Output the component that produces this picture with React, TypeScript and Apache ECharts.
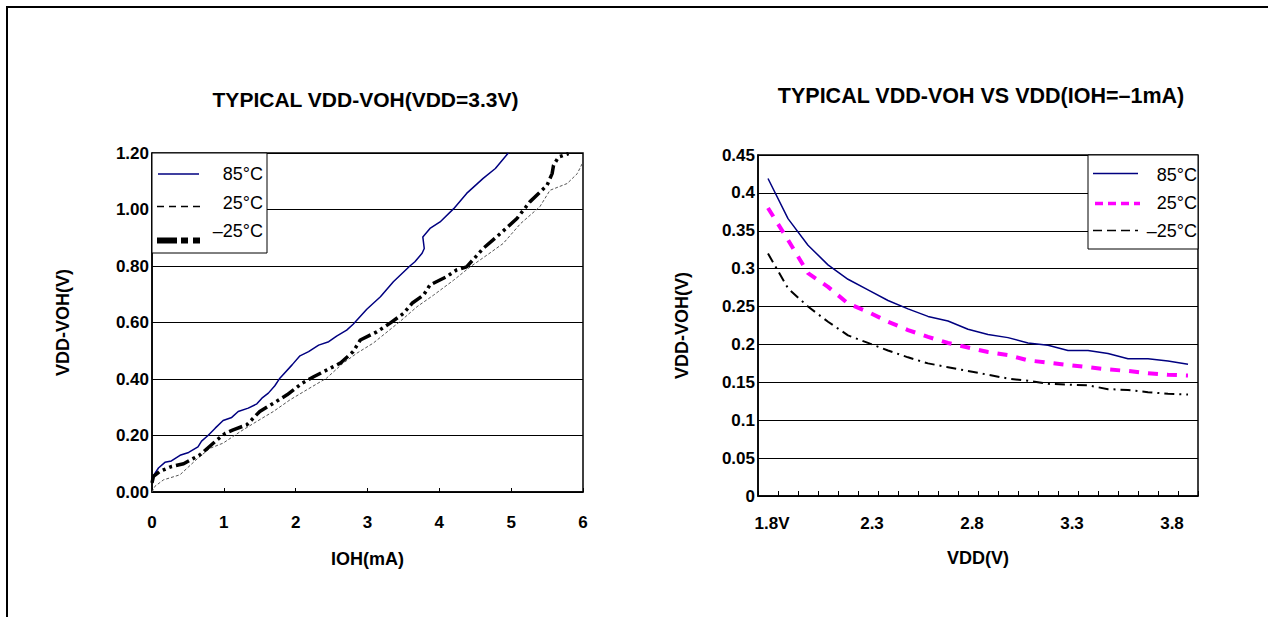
import React, { useEffect, useRef } from 'react';
import * as echarts from 'echarts';

// ---------- Left chart data: VDD-VOH vs IOH (VDD = 3.3V) ----------
const ioh85 = [0, 0.09, 0.18, 0.27, 0.39, 0.51, 0.64, 0.69, 0.78, 0.88, 0.99, 1.11, 1.2, 1.34, 1.46, 1.53, 1.62, 1.71, 1.78, 1.95, 2.06, 2.18, 2.32, 2.46, 2.57, 2.71, 2.8, 2.99, 3.18, 3.36, 3.59, 3.66, 3.76, 3.79, 3.77, 3.87, 4.01, 4.2, 4.38, 4.61, 4.78, 4.96];
const voh85 = [0.05, 0.085, 0.105, 0.11, 0.13, 0.14, 0.16, 0.18, 0.2, 0.226, 0.253, 0.264, 0.285, 0.297, 0.312, 0.332, 0.35, 0.376, 0.403, 0.45, 0.482, 0.497, 0.52, 0.532, 0.552, 0.573, 0.594, 0.647, 0.691, 0.744, 0.8, 0.815, 0.845, 0.862, 0.903, 0.933, 0.956, 1.003, 1.057, 1.11, 1.145, 1.2];

const ioh25 = [0, 0.04, 0.16, 0.39, 0.64, 0.81, 0.99, 1.23, 1.46, 1.69, 1.92, 2.15, 2.43, 2.66, 2.85, 3.08, 3.25, 3.45, 3.69, 3.92, 4.2, 4.43, 4.66, 4.89, 5.13, 5.4, 5.54, 5.78, 5.92, 6.0];
const voh25 = [0, 0.02, 0.043, 0.061, 0.12, 0.155, 0.173, 0.214, 0.25, 0.285, 0.326, 0.361, 0.403, 0.456, 0.491, 0.527, 0.562, 0.603, 0.656, 0.697, 0.75, 0.797, 0.838, 0.88, 0.95, 1.01, 1.068, 1.092, 1.127, 1.168];

const iohM25 = [0, 0.02, 0.11, 0.27, 0.44, 0.67, 0.88, 1.02, 1.13, 1.32, 1.5, 1.69, 1.88, 2.09, 2.25, 2.48, 2.62, 2.8, 2.9, 3.13, 3.31, 3.5, 3.62, 3.78, 3.87, 4.1, 4.24, 4.38, 4.61, 4.85, 5.08, 5.26, 5.5, 5.57, 5.59, 5.66, 5.8];
const vohM25 = [0.032, 0.055, 0.073, 0.09, 0.1, 0.132, 0.179, 0.208, 0.22, 0.238, 0.285, 0.314, 0.344, 0.385, 0.408, 0.438, 0.456, 0.497, 0.538, 0.567, 0.597, 0.632, 0.668, 0.697, 0.733, 0.762, 0.786, 0.797, 0.862, 0.915, 0.968, 1.027, 1.086, 1.127, 1.157, 1.186, 1.198];

// ---------- Right chart data: VDD-VOH vs VDD (IOH = -1mA) ----------
const vddCats = ['1.8', '1.9', '2.0', '2.1', '2.2', '2.3', '2.4', '2.5', '2.6', '2.7', '2.8', '2.9', '3.0', '3.1', '3.2', '3.3', '3.4', '3.5', '3.6', '3.7', '3.8', '3.9'];
const vdd85 = [0.419, 0.366, 0.331, 0.305, 0.286, 0.272, 0.258, 0.247, 0.237, 0.231, 0.22, 0.213, 0.209, 0.202, 0.199, 0.192, 0.192, 0.188, 0.181, 0.181, 0.178, 0.174];
const vdd25 = [0.38, 0.338, 0.294, 0.276, 0.254, 0.243, 0.23, 0.219, 0.21, 0.202, 0.196, 0.19, 0.186, 0.179, 0.176, 0.173, 0.17, 0.167, 0.165, 0.162, 0.16, 0.159];
const vddM25 = [0.32, 0.274, 0.25, 0.23, 0.212, 0.202, 0.192, 0.183, 0.175, 0.17, 0.165, 0.16, 0.155, 0.152, 0.148, 0.147, 0.146, 0.141, 0.14, 0.137, 0.135, 0.134];

const leftTitle = 'TYPICAL VDD-VOH(VDD=3.3V)';
const rightTitle = 'TYPICAL VDD-VOH VS VDD(IOH=–1mA)';
const legendNames = ['85°C', '25°C', '–25°C'];
const yName = 'VDD-VOH(V)';
const leftXName = 'IOH(mA)';
const rightXName = 'VDD(V)';

const FONT = '"Liberation Sans", Arial, Helvetica, sans-serif';
const NAVY = '#000080';
const MAGENTA = '#ff00ff';

const zip = (xs: number[], ys: number[]) => xs.map((x, i) => [x, ys[i]]);

const tickLabel = { color: '#000', fontWeight: 'bold' as const, fontSize: 17, fontFamily: FONT };
const axisName = { color: '#000', fontWeight: 'bold' as const, fontSize: 18, fontFamily: FONT };
const blackLine = { show: true, onZero: false, lineStyle: { color: '#000', width: 1.5 } };

function txt(x: number, y: number, text: string, align: string, size: number, bold = false, extra: any = {}) {
  return {
    type: 'text', x, y, z: 100, ...extra,
    style: { text, fill: '#000', fontSize: size, fontWeight: bold ? 'bold' : 'normal', fontFamily: FONT, align, verticalAlign: 'middle' },
  };
}
function ln(x1: number, y1: number, x2: number, y2: number, stroke: string, lineWidth: number, lineDash?: number[]) {
  return { type: 'line', z: 100, shape: { x1, y1, x2, y2 }, style: { stroke, lineWidth, lineDash } };
}

export default function App() {
  const ref = useRef<HTMLDivElement>(null);
  useEffect(() => {
    if (!ref.current) return;
    const chart = echarts.init(ref.current, undefined, { renderer: 'svg' });
    chart.setOption({
      animation: false,
      backgroundColor: '#fff',
      grid: [
        { left: 152, top: 153, width: 431, height: 339, show: true, borderColor: '#000', borderWidth: 1.5 },
        { left: 758, top: 155, width: 440, height: 341, show: true, borderColor: '#000', borderWidth: 1.5 },
      ],
      xAxis: [
        {
          type: 'value', gridIndex: 0, min: 0, max: 6, interval: 1,
          axisLine: blackLine,
          axisTick: { show: true, inside: true, length: 4, lineStyle: { color: '#000', width: 1 } },
          splitLine: { show: false },
          axisLabel: { ...tickLabel, margin: 22 },
          name: leftXName, nameLocation: 'middle', nameGap: 58, nameTextStyle: axisName,
        },
        {
          type: 'category', gridIndex: 1, data: vddCats, boundaryGap: true,
          axisLine: blackLine,
          axisTick: { show: true, inside: true, length: 5, interval: 0, lineStyle: { color: '#000', width: 1 } },
          splitLine: { show: false },
          axisLabel: {
            ...tickLabel, margin: 19, interval: 4, padding: [0, 0, 0, 8],
            formatter: (v: string, i: number) => (i === 0 ? v + 'V' : v),
          },
          name: rightXName, nameLocation: 'middle', nameGap: 53, nameTextStyle: axisName,
        },
      ],
      yAxis: [
        {
          type: 'value', gridIndex: 0, min: 0, max: 1.2, interval: 0.2,
          axisLine: blackLine, axisTick: { show: false },
          splitLine: { show: true, lineStyle: { color: '#000', width: 1 } },
          axisLabel: { ...tickLabel, margin: 3, padding: [7, 0, 0, 0], formatter: (v: number) => v.toFixed(2) },
          name: yName, nameLocation: 'middle', nameGap: 80, nameRotate: 90, nameTextStyle: axisName,
        },
        {
          type: 'value', gridIndex: 1, min: 0, max: 0.45, interval: 0.05,
          axisLine: blackLine, axisTick: { show: false },
          splitLine: { show: true, lineStyle: { color: '#000', width: 1 } },
          axisLabel: { ...tickLabel, margin: 3, formatter: (v: number) => String(Number(v.toFixed(2))) },
          name: yName, nameLocation: 'middle', nameGap: 67, nameRotate: 90, nameTextStyle: axisName,
        },
      ],
      series: [
        { name: legendNames[0], type: 'line', xAxisIndex: 0, yAxisIndex: 0, data: zip(ioh85, voh85), showSymbol: false, symbol: 'none', lineStyle: { color: NAVY, width: 1.5 } },
        { name: legendNames[1], type: 'line', xAxisIndex: 0, yAxisIndex: 0, data: zip(ioh25, voh25), showSymbol: false, symbol: 'none', lineStyle: { color: '#555', width: 1, type: [3, 2] } },
        { name: legendNames[2], type: 'line', xAxisIndex: 0, yAxisIndex: 0, data: zip(iohM25, vohM25), showSymbol: false, symbol: 'none', lineStyle: { color: '#000', width: 3.5, type: [14, 4, 3, 4, 3, 4] } },
        { name: legendNames[0], type: 'line', xAxisIndex: 1, yAxisIndex: 1, data: vdd85, showSymbol: false, symbol: 'none', lineStyle: { color: NAVY, width: 1.5 } },
        { name: legendNames[1], type: 'line', xAxisIndex: 1, yAxisIndex: 1, data: vdd25, showSymbol: false, symbol: 'none', lineStyle: { color: MAGENTA, width: 4, type: [10, 9] } },
        { name: legendNames[2], type: 'line', xAxisIndex: 1, yAxisIndex: 1, data: vddM25, showSymbol: false, symbol: 'none', lineStyle: { color: '#000', width: 2, type: [10, 5, 2, 5] } },
      ],
      graphic: [
        ln(6, 7, 1268, 7, '#000', 2),
        ln(7, 6, 7, 617, '#000', 2),
        txt(365.5, 99.5, leftTitle, 'center', 21, true),
        txt(981, 96, rightTitle, 'center', 21.5, true),
        // left legend
        { type: 'rect', z: 99, shape: { x: 152, y: 153, width: 115, height: 100 }, style: { fill: '#fff', stroke: '#000', lineWidth: 1 } },
        ln(158, 174, 199, 174, NAVY, 1.5),
        txt(263, 174, legendNames[0], 'right', 18),
        ln(157, 206.5, 203, 206.5, '#000', 1.5, [7, 5]),
        txt(263, 203, legendNames[1], 'right', 18),
        ln(157, 240.5, 200, 240.5, '#000', 6, [20, 4, 7, 5, 7, 5]),
        txt(263, 231, legendNames[2], 'right', 18),
        // right legend
        { type: 'rect', z: 99, shape: { x: 1088, y: 155, width: 110, height: 94 }, style: { fill: '#fff', stroke: '#000', lineWidth: 1 } },
        ln(1093, 173.5, 1138, 173.5, NAVY, 1.5),
        txt(1197, 175, legendNames[0], 'right', 18),
        ln(1095, 203.5, 1140, 203.5, MAGENTA, 3.5, [8, 5]),
        txt(1197, 203, legendNames[1], 'right', 18),
        ln(1093, 230.5, 1143, 230.5, '#000', 1.5, [9, 5, 9, 5, 9, 5, 3, 5]),
        txt(1197, 231, legendNames[2], 'right', 18),
      ],
    });
    return () => chart.dispose();
  }, []);
  return <div ref={ref} style={{ position: 'fixed', left: 0, top: 0, width: 1268, height: 617, background: '#fff' }} />;
}
